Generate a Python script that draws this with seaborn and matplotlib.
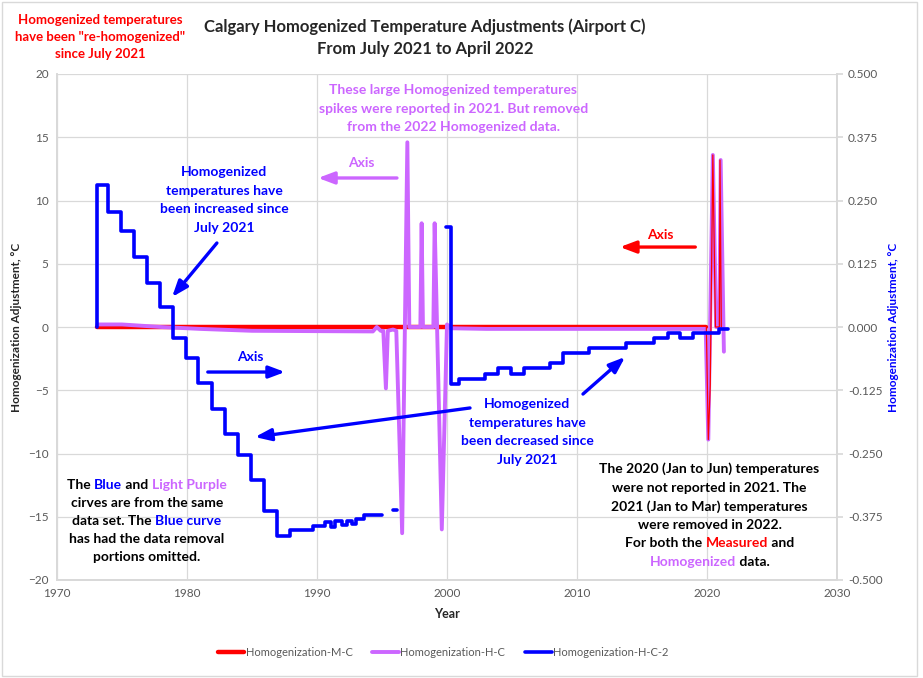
import numpy as np
import pandas as pd
import seaborn as sns
import matplotlib.pyplot as plt
from matplotlib.patches import Rectangle
from matplotlib.ticker import FormatStrFormatter
from matplotlib.transforms import ScaledTranslation

# Homogenization-M-C (left axis, red)
mc_year = [1973.1, 2019.95, 2020.1, 2020.25, 2020.45, 2020.65, 2020.95, 2021.0, 2021.1]
mc_adj = [0.0, 0.0, -8.9, -4.6, 13.6, 0.0, 0.0, 13.2, 0.0]

# Homogenization-H-C (left axis, light purple)
hc_year = [1973.1, 1975.0, 1978.0, 1981.0, 1985.0, 1994.3, 1994.6, 1994.9, 1995.1,
           1995.3, 1995.45, 1995.85, 1996.1, 1996.55, 1996.95, 1997.1, 1997.95,
           1998.05, 1998.15, 1998.95, 1999.05, 1999.6, 2000.0, 2000.3, 2003.0,
           2019.9, 2020.1, 2020.45, 2020.7, 2020.95, 2021.05, 2021.3]
hc_adj = [0.2, 0.2, 0.0, -0.15, -0.3, -0.35, 0.0, -0.3, -0.3,
          -4.85, -0.3, -0.2, -0.3, -16.3, 14.6, 0.0, 0.0,
          8.2, 0.0, 0.0, 8.2, -16.0, 0.2, -0.1, -0.15,
          -0.15, -8.9, 13.6, 0.0, 0.0, 13.2, -1.95]

# Homogenization-H-C-2 (right axis, blue), step curve in three pieces
hc2_seg = [1] * 27 + [2] * 2 + [3] * 17
hc2_year = [1973.10, 1973.10, 1973.95, 1974.95, 1975.90, 1976.95, 1977.90, 1978.95,
            1979.95, 1980.85, 1981.90, 1982.90, 1983.95, 1984.95, 1985.90, 1986.90,
            1987.90, 1989.70, 1990.60, 1991.10, 1991.40, 1991.90, 1992.30, 1992.70,
            1993.00, 1993.60, 1995.00,
            1995.85, 1996.15,
            1999.90, 2000.30, 2000.95, 2002.90, 2003.95, 2004.90, 2005.90, 2007.90,
            2008.95, 2010.95, 2013.80, 2015.90, 2017.00, 2017.90, 2018.95, 2020.95,
            2021.60]
hc2_adj = [0.000, 0.280, 0.228, 0.189, 0.138, 0.086, 0.040, -0.022,
           -0.062, -0.111, -0.162, -0.212, -0.253, -0.302, -0.363, -0.413,
           -0.401, -0.393, -0.385, -0.395, -0.384, -0.392, -0.384, -0.390,
           -0.380, -0.372, -0.372,
           -0.362, -0.362,
           0.198, -0.113, -0.102, -0.093, -0.082, -0.093, -0.082, -0.072,
           -0.052, -0.042, -0.032, -0.022, -0.011, -0.022, -0.012, -0.003,
           -0.003]

RED = '#FF0000'
PURPLE = '#CC66FF'
BLUE = '#0000FF'
GRAY = '#595959'

sns.set_theme(style='whitegrid')
plt.rcParams['font.family'] = ['Lato', 'DejaVu Sans']

fig = plt.figure(figsize=(9.23, 6.78), dpi=100)
ax = fig.add_axes([57 / 923, 1 - 580 / 678, 780 / 923, 506 / 678])
ax2 = ax.twinx()

mc = pd.DataFrame({'year': mc_year, 'adj': mc_adj})
hc = pd.DataFrame({'year': hc_year, 'adj': hc_adj})
hc2 = pd.DataFrame({'year': hc2_year, 'adj': hc2_adj, 'seg': hc2_seg})

# thick red for the flat part, thin red line drawn over the 2020 spikes
sns.lineplot(data=mc[mc['year'] <= 2020], x='year', y='adj', estimator=None, sort=False,
             color=RED, lw=3.2, label='Homogenization-M-C', legend=False, ax=ax)
sns.lineplot(data=hc, x='year', y='adj', estimator=None, sort=False, color=PURPLE,
             lw=2.8, label='Homogenization-H-C', legend=False, ax=ax)
sns.lineplot(data=mc[mc['year'] >= 2019.95], x='year', y='adj', estimator=None, sort=False,
             color=RED, lw=0.9, legend=False, ax=ax)
sns.lineplot(data=hc2, x='year', y='adj', units='seg', estimator=None, sort=False,
             drawstyle='steps-post', color=BLUE, lw=2.6,
             label='Homogenization-H-C-2', legend=False, ax=ax2)

ax.set_xlim(1970, 2030)
ax.set_ylim(-20, 20)
ax.set_xticks(range(1970, 2031, 10))
ax.set_yticks(range(-20, 21, 5))
ax2.set_ylim(-0.5, 0.5)
ax2.set_yticks(np.arange(-0.5, 0.501, 0.125))
ax2.yaxis.set_major_formatter(FormatStrFormatter('%.3f'))
ax2.grid(False)
ax.grid(color='#D9D9D9', lw=0.9)

for a in (ax, ax2):
    for s in a.spines.values():
        s.set_color('#D9D9D9')
    a.spines['top'].set_visible(False)
    a.tick_params(labelsize=8.5, labelcolor=GRAY)
ax.tick_params(axis='both', length=0, pad=6)
ax2.tick_params(axis='y', length=4, color='#D9D9D9', pad=4, direction='out', right=True)

ax.set_xlabel('Year', fontsize=9, weight='bold', color='#262626', labelpad=6)
ax.set_ylabel('Homogenization Adjustment, °C', fontsize=8.5, weight='bold',
              color='#262626', labelpad=4)
ax2.set_ylabel('Homogenization Adjustment, °C', fontsize=8.5, weight='bold',
               color=BLUE, labelpad=4)

fig.text(425 / 923, 1 - 38 / 678,
         'Calgary Homogenized Temperature Adjustments (Airport C)\nFrom July 2021 to April 2022',
         ha='center', va='center', fontsize=12, weight='bold', color='#262626', linespacing=1.45)
fig.text(100 / 923, 1 - 37 / 678,
         'Homogenized temperatures\nhave been "re-homogenized"\nsince July 2021',
         ha='center', va='center', fontsize=9.5, weight='bold', color=RED, linespacing=1.45)


def text_block(ax, x, y, lines, color, size=10, gap=18.5):
    r = fig.canvas.get_renderer()
    n = len(lines)
    for i, parts in enumerate(lines):
        if isinstance(parts, str):
            parts = [(parts, color)]
        dy = ((n - 1) / 2 - i) * gap
        objs = [ax.text(x, y, s, color=c, fontsize=size, weight='bold',
                        ha='left', va='center') for s, c in parts]
        ws = [o.get_window_extent(r).width for o in objs]
        left = -sum(ws) / 2
        for o, w in zip(objs, ws):
            o.set_transform(ax.transData + ScaledTranslation(left / fig.dpi, dy / fig.dpi,
                                                             fig.dpi_scale_trans))
            left += w


def arrow(ax, tail, tip, color):
    ax.annotate('', xy=tip, xytext=tail,
                arrowprops=dict(arrowstyle='-|>,head_length=0.8,head_width=0.3',
                                color=color, lw=2.4, mutation_scale=12, shrinkA=0, shrinkB=0))


text_block(ax, 2000.5, 17.24, ['These large Homogenized temperatures',
                               'spikes were reported in 2021. But removed',
                               'from the 2022 Homogenized data.'], PURPLE)
text_block(ax, 1993.4, 13.0, ['Axis'], PURPLE)
arrow(ax, (1996.15, 11.78), (1990.08, 11.78), PURPLE)

text_block(ax, 1982.85, 10.04, ['Homogenized', 'temperatures have',
                                'been increased since', 'July 2021'], BLUE)
arrow(ax, (1982.3, 6.64), (1978.85, 2.37), BLUE)

text_block(ax, 1984.85, -2.37, ['Axis'], BLUE)
arrow(ax, (1981.6, -3.56), (1987.54, -3.56), BLUE)

text_block(ax, 2006.15, -8.3, ['Homogenized', 'temperatures have',
                               'been decreased since', 'July 2021'], BLUE)
arrow(ax, (2001.77, -6.4), (1985.23, -8.7), BLUE)
arrow(ax, (2010.46, -5.3), (2013.7, -2.37), BLUE)

text_block(ax, 2016.4, 7.27, ['Axis'], RED)
arrow(ax, (2019.1, 6.32), (2013.3, 6.32), RED)

text_block(ax, 1976.9, -15.34, [
    [('The ', 'black'), ('Blue', BLUE), (' and ', 'black'), ('Light Purple', PURPLE)],
    'cirves are from the same',
    [('data set. The ', 'black'), ('Blue curve', BLUE)],
    'has had the data removal',
    'portions omitted.'], 'black', gap=18)

text_block(ax, 2020.2, -14.9, [
    'The 2020 (Jan to Jun) temperatures',
    'were not reported in 2021. The',
    '2021 (Jan to Mar) temperatures',
    'were removed in 2022.',
    [('For both the ', 'black'), ('Measured', RED), (' and', 'black')],
    [('Homogenized', PURPLE), (' data.', 'black')]], 'black', gap=18.6)

handles, labels = [], []
for a in (ax, ax2):
    h, l = a.get_legend_handles_labels()
    handles += h
    labels += l
uniq = dict(zip(labels, handles))
fig.legend(uniq.values(), uniq.keys(), loc='center', bbox_to_anchor=(443 / 923, 1 - 652 / 678),
           ncol=3, frameon=False, handlelength=2.4, handletextpad=0.1, columnspacing=1.8,
           fontsize=8, labelcolor=GRAY)

fig.patches.append(Rectangle((0.002, 0.003), 0.992, 0.994, transform=fig.transFigure,
                             fill=False, edgecolor='#D9D9D9', lw=1))

fig.savefig('out.png', dpi=100)
